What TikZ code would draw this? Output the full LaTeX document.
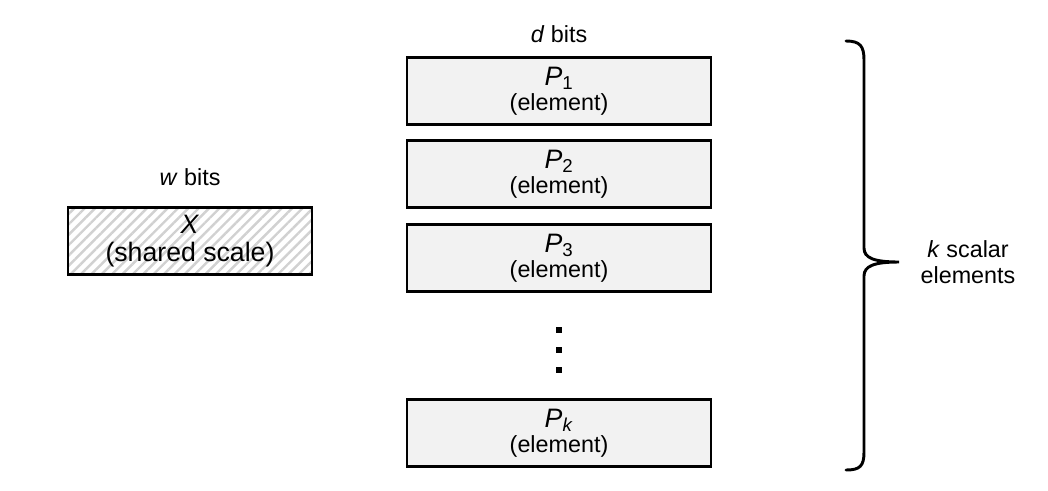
\documentclass[tikz,border=0pt]{standalone}
\usepackage{fontspec}
\setmainfont{Liberation Sans}
\usetikzlibrary{positioning,patterns.meta}

\newcommand{\elem}[1]{{\fontsize{20}{21}\selectfont\textit{P}\textsubscript{#1}}\\(element)}

\tikzset{
  elembox/.style={draw, line width=2.2pt, fill=black!5, minimum width=228pt,
    minimum height=50pt, align=center, inner sep=0pt, font=\fontsize{17.5}{19}\selectfont},
  scalebox/.style={draw, line width=2.2pt, minimum width=183pt, minimum height=50pt,
    align=center, inner sep=0pt, font=\fontsize{20}{21}\selectfont,
    pattern={Lines[angle=45,distance=5.5pt,line width=1.8pt]}, pattern color=black!18},
  lbl/.style={font=\fontsize{17.5}{19}\selectfont, align=center, inner sep=0pt},
  vdot/.style={fill=black, inner sep=0pt, minimum size=4pt}
}

\begin{document}
\begin{tikzpicture}[x=0.75pt,y=-0.75pt]
  \fill[white] (0,0) rectangle (1048,490);
  \useasboundingbox (0,0) rectangle (1048,490);

  %the k elements, one row each
  \node[elembox] (p1) at (559,91) {\elem{1}};
  \node[elembox] (p2) at (559,174) {\elem{2}};
  \node[elembox] (p3) at (559,258) {\elem{3}};
  \node[elembox] (pk) at (559,433) {\elem{\textit{k}}};
  \node[lbl, above=10pt of p1] (dbits) {\textit{d} bits};

  %dots between P3 and Pk
  \foreach \y [count=\i] in {330,350,370}
    \node[vdot] (dot\i) at (559,\y) {};

  %the shared scale
  \node[scalebox] (x) at (190,241) {\textit{X}\\(shared scale)};
  \node[lbl, above=15pt of x] (wbits) {\textit{w} bits};

  %brace over all elements
  \coordinate (btop) at (846,41);
  \coordinate (bbot) at (846,470);
  \coordinate (btip) at (899,262);
  \draw[line width=2.2pt, line cap=round]
    (btop) .. controls (860,41) and (864,46) .. (864,60) -- (864,248)
    .. controls (864,258) and (874,262) .. (btip)
    .. controls (874,262) and (864,266) .. (864,276) -- (864,452)
    .. controls (864,466) and (860,470) .. (bbot);
  \node[lbl] (klbl) at (968,262) {\textit{k} scalar\\elements};
\end{tikzpicture}
\end{document}
